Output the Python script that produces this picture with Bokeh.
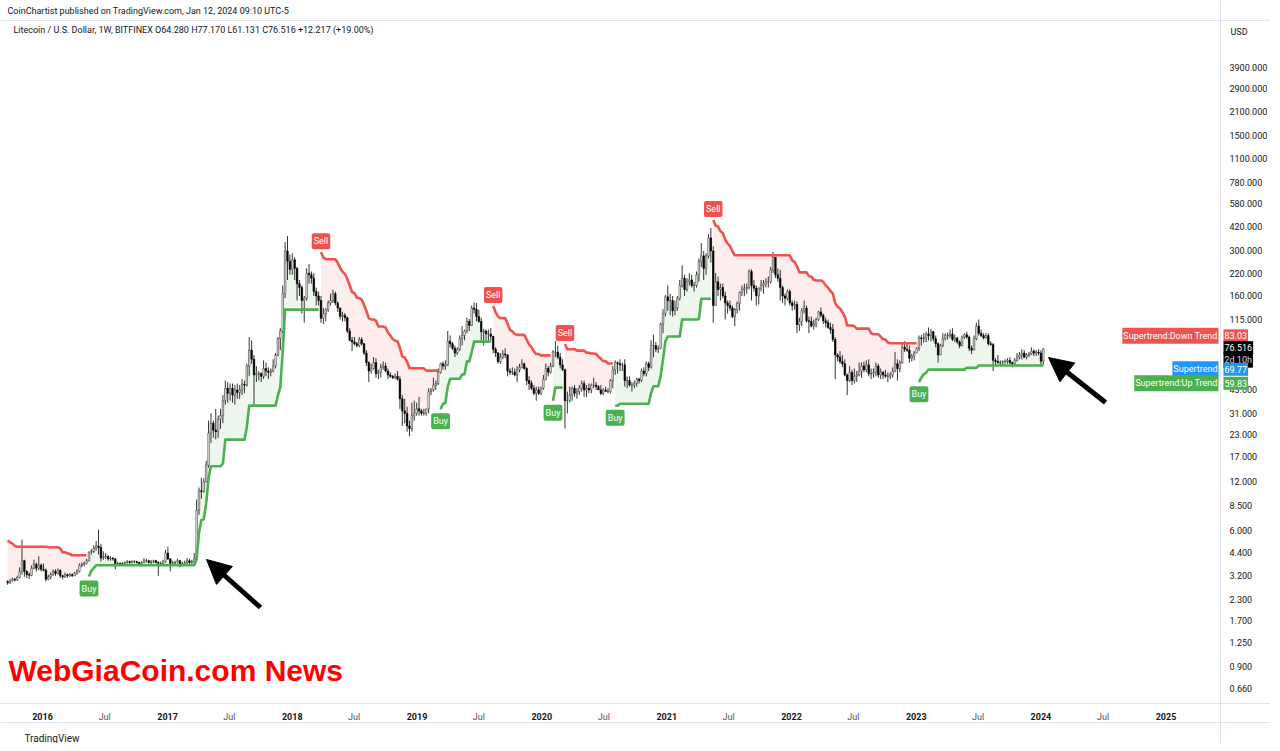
import numpy as np
import pandas as pd
from bokeh.plotting import figure
from bokeh.models import (Range1d, Label, Arrow, NormalHead, Span)
from bokeh.embed import file_html
from bokeh.resources import INLINE

# ---------------- data (weekly LTC/USD, Bitfinex) ----------------
FIRST_WEEK = "2015-09-21"
first_open = 2.95

# weeks 2015-09-21 .. 2015-12-28
close_2015 = [2.90, 2.98, 3.05, 3.02, 3.12, 3.40, 3.95, 3.40, 3.25, 3.22, 3.55, 3.75, 3.55, 3.70, 3.50]
high_2015 = [3.00, 3.05, 3.12, 3.10, 3.20, 3.60, 5.30, 4.00, 3.45, 3.35, 3.70, 4.00, 3.85, 4.20, 3.80]
low_2015 = [2.82, 2.86, 2.95, 2.95, 2.98, 3.08, 3.25, 3.15, 3.10, 3.05, 3.18, 3.50, 3.40, 3.45, 3.40]

# weeks 2016-01-04 .. 2016-12-26
close_2016 = [3.45, 3.05, 3.15, 3.25, 3.40, 3.30, 3.45, 3.20, 3.15, 3.25,
              3.20, 3.25, 3.20, 3.30, 3.40, 3.70, 3.75, 3.80, 3.95, 4.45,
              4.50, 4.70, 4.85, 4.75, 4.10, 4.15, 4.20, 4.05, 4.10, 4.05,
              3.80, 3.80, 3.78, 3.80, 3.85, 3.90, 3.85, 3.90, 3.90, 3.85,
              3.80, 3.85, 3.95, 3.95, 3.85, 3.90, 3.95, 3.85, 3.80, 3.80,
              3.90, 4.40]
high_2016 = [3.80, 3.55, 3.25, 3.35, 3.50, 3.50, 3.55, 3.50, 3.25, 3.35,
             3.30, 3.32, 3.30, 3.38, 3.50, 3.80, 3.85, 3.90, 4.05, 4.50,
             4.65, 4.90, 5.20, 6.10, 5.00, 4.50, 4.40, 4.25, 4.20, 4.15,
             4.10, 3.90, 3.85, 3.88, 3.92, 3.98, 3.95, 3.98, 3.98, 3.95,
             3.90, 3.92, 4.10, 4.05, 4.00, 3.98, 4.00, 4.00, 3.92, 3.90,
             4.00, 4.60]
low_2016 = [3.40, 2.95, 3.00, 3.05, 3.20, 3.20, 3.25, 3.10, 3.05, 3.10,
            3.12, 3.15, 3.15, 3.18, 3.25, 3.35, 3.60, 3.65, 3.75, 3.90,
            4.30, 4.40, 4.55, 4.30, 3.90, 4.00, 4.05, 3.95, 3.95, 3.95,
            3.50, 3.70, 3.70, 3.72, 3.75, 3.80, 3.78, 3.80, 3.82, 3.80,
            3.75, 3.75, 3.82, 3.85, 3.80, 3.75, 3.82, 3.80, 3.20, 3.72,
            3.75, 3.85]

# weeks 2017-01-02 .. 2017-12-25
close_2017 = [4.05, 3.80, 3.85, 3.85, 3.95, 3.80, 3.80, 3.85, 3.95, 3.85,
              3.90, 4.05, 8.00, 10.5, 10.4, 11.9, 15.0, 23.5, 27.0, 24.5,
              24.0, 28.5, 30.0, 37.0, 44.0, 41.0, 44.0, 40.0, 43.0, 41.5,
              43.0, 46.5, 46.0, 60.0, 75.0, 66.0, 53.0, 54.0, 54.0, 52.0,
              58.0, 56.0, 55.0, 56.0, 60.0, 70.0, 88.0, 98.0, 165.0, 300.0,
              260.0, 232.0]
high_2017 = [4.80, 4.10, 3.95, 3.95, 4.05, 4.00, 3.90, 3.95, 4.10, 4.05,
             4.00, 4.40, 9.30, 11.0, 12.6, 12.5, 16.0, 28.0, 31.0, 28.0,
             33.0, 30.0, 33.0, 40.0, 49.0, 48.0, 47.0, 47.0, 46.0, 47.0,
             46.0, 50.0, 49.0, 62.0, 90.0, 86.0, 70.0, 60.0, 56.0, 55.0,
             65.0, 63.0, 59.0, 58.0, 66.0, 72.0, 90.0, 102.0, 185.0, 340.0,
             370.0, 285.0]
low_2017 = [4.00, 3.40, 3.70, 3.75, 3.80, 3.60, 3.65, 3.70, 3.75, 3.70,
            3.70, 3.75, 3.95, 7.50, 9.40, 10.2, 11.8, 14.5, 20.5, 22.0,
            21.5, 22.0, 25.0, 27.0, 35.0, 36.0, 37.0, 36.0, 35.0, 38.0,
            38.0, 40.0, 41.0, 45.0, 52.0, 62.0, 35.0, 48.0, 49.0, 48.0,
            50.0, 52.0, 50.0, 52.0, 55.0, 58.0, 69.0, 75.0, 95.0, 155.0,
            200.0, 215.0]

# weeks 2018-01-01 .. 2018-12-24
close_2018 = [265, 235, 190, 180, 150, 155, 220, 215, 205, 170,
              160, 150, 117, 125, 132, 145, 150, 165, 145, 135,
              120, 122, 118, 98, 86, 84, 82, 80, 87, 82,
              72, 63, 56, 58, 63, 54, 55, 59, 60, 56,
              53, 52, 51, 52, 50, 38, 32, 31, 26, 25,
              30, 31]
high_2018 = [290, 275, 240, 200, 185, 160, 235, 250, 225, 220,
             180, 170, 160, 135, 135, 150, 165, 175, 170, 148,
             136, 128, 126, 120, 102, 90, 90, 84, 90, 90,
             83, 75, 64, 62, 68, 67, 57, 62, 64, 63,
             58, 55, 53, 54, 56, 52, 40, 38, 34, 28,
             36, 37]
low_2018 = [215, 200, 150, 160, 125, 110, 150, 190, 190, 160,
            140, 140, 110, 108, 112, 128, 140, 145, 140, 128,
            115, 112, 112, 95, 85, 74, 80, 78, 78, 80,
            70, 60, 48, 54, 57, 51, 50, 51, 57, 55,
            50, 51, 50, 50, 49, 33, 26, 27, 24, 22.5,
            24, 28]

# weeks 2018-12-31 .. 2019-12-23
close_2019 = [33, 32, 31, 31, 33, 42, 43, 46, 47, 55,
              62, 60, 61, 85, 82, 77, 72, 76, 88, 92,
              98, 112, 106, 135, 133, 120, 112, 97, 98, 94,
              94, 91, 76, 72, 64, 68, 71, 70, 56, 55,
              55, 53, 57, 59, 62, 58, 49, 47, 44, 41,
              43, 41]
high_2019 = [36, 39, 33, 33, 33, 44, 44, 51, 49, 58,
             63, 64, 65, 98, 92, 84, 80, 78, 92, 105,
             100, 118, 116, 140, 146, 145, 132, 118, 101, 100,
             100, 102, 91, 78, 73, 72, 75, 77, 71, 58,
             59, 58, 60, 62, 66, 63, 59, 52, 49, 46,
             45, 45]
low_2019 = [30, 30, 30, 30, 30, 31, 40, 42, 43, 46,
            54, 57, 57, 60, 78, 75, 68, 70, 74, 80,
            86, 95, 98, 105, 125, 112, 110, 85, 80, 86,
            84, 85, 72, 68, 62, 62, 66, 67, 52, 53,
            53, 52, 48, 55, 58, 57, 46, 43, 43, 40,
            37, 40]

# weeks 2019-12-30 .. 2020-12-21
close_2020 = [44, 50, 58, 55, 60, 73, 73, 68, 61, 57,
              37, 37, 40, 44, 41, 42, 44, 47, 43, 44,
              43, 46, 46, 45, 43, 41, 43, 42, 42, 49,
              57, 63, 62, 61, 61, 49, 49, 46, 46, 47,
              50, 49, 56, 54, 62, 59, 80, 80, 76, 77,
              108, 125]
high_2020 = [45, 53, 62, 60, 63, 75, 85, 80, 72, 66,
             58, 42, 45, 45, 46, 44, 46, 49, 49, 46,
             47, 47, 51, 48, 46, 46, 44, 45, 44, 50,
             60, 65, 64, 66, 63, 66, 52, 52, 48, 49,
             51, 51, 58, 59, 64, 64, 86, 93, 84, 80,
             110, 133]
low_2020 = [40, 43, 49, 52, 54, 59, 68, 66, 58, 56,
            25, 31, 36, 37, 39, 38, 40, 42, 39, 39,
            41, 41, 44, 43, 43, 40, 40, 42, 41, 41,
            44, 53, 54, 56, 56, 45, 44, 45, 42, 44,
            45, 47, 48, 52, 52, 56, 58, 68, 73, 72,
            76, 95]

# weeks 2020-12-28 .. 2021-12-27
close_2021 = [158, 150, 150, 130, 135, 155, 185, 205, 175, 195,
              200, 185, 185, 215, 260, 280, 235, 280, 360, 300,
              140, 195, 175, 180, 160, 145, 140, 135, 120, 132,
              144, 168, 175, 178, 180, 225, 185, 178, 160, 178,
              185, 190, 195, 195, 230, 275, 215, 205, 180, 160,
              155, 170, 145]
high_2021 = [162, 185, 165, 160, 150, 160, 200, 245, 215, 205,
             220, 215, 195, 225, 270, 335, 300, 290, 380, 413,
             320, 220, 210, 190, 190, 170, 150, 150, 140, 135,
             148, 170, 185, 190, 190, 232, 232, 200, 185, 180,
             200, 200, 205, 210, 240, 296, 275, 235, 230, 185,
             165, 175, 175]
low_2021 = [120, 130, 122, 120, 122, 130, 150, 180, 160, 170,
            185, 180, 170, 180, 195, 240, 200, 215, 270, 255,
            110, 140, 160, 150, 155, 115, 125, 130, 117, 105,
            125, 130, 160, 160, 165, 175, 150, 170, 140, 142,
            170, 165, 180, 180, 190, 220, 205, 195, 150, 145,
            140, 150, 140]

# weeks 2022-01-03 .. 2022-12-26
close_2022 = [140, 142, 107, 112, 130, 135, 113, 112, 105, 108,
              115, 128, 122, 113, 110, 103, 100, 87, 70, 68,
              64, 62, 53, 49, 55, 49, 52, 53, 56, 60,
              57, 61, 54, 54, 55, 60, 53, 55, 53, 52,
              52, 53, 56, 62, 58, 63, 78, 76, 75, 67,
              69, 72]
high_2022 = [150, 150, 148, 118, 135, 150, 140, 120, 120, 115,
             118, 130, 136, 125, 118, 115, 110, 108, 90, 72,
             74, 70, 66, 54, 60, 57, 58, 56, 63, 63,
             64, 65, 66, 58, 58, 63, 62, 58, 56, 57,
             55, 55, 59, 73, 66, 65, 82, 85, 83, 80,
             71, 74]
low_2022 = [130, 132, 95, 98, 105, 125, 110, 95, 103, 100,
            103, 113, 118, 108, 103, 101, 94, 84, 50, 64,
            62, 59, 52, 40, 48, 46, 47, 48, 52, 51,
            55, 55, 52, 50, 51, 52, 51, 50, 50, 51,
            48, 50, 51, 55, 49, 55, 62, 73, 73, 63,
            64, 65]

# weeks 2023-01-02 .. 2023-12-25
close_2023 = [77, 89, 88, 89, 94, 92, 97, 88, 82, 70,
              80, 88, 92, 92, 94, 87, 89, 84, 80, 90,
              93, 90, 77, 75, 88, 105, 95, 92, 89, 92,
              82, 81, 65, 64, 63, 63, 64, 64, 65, 63,
              62, 65, 68, 70, 72, 68, 70, 71, 74, 72,
              73, 72]
high_2023 = [78, 92, 93, 95, 97, 103, 101, 98, 92, 84,
             82, 95, 95, 96, 100, 102, 93, 90, 86, 92,
             95, 97, 92, 80, 92, 110, 115, 100, 95, 95,
             95, 85, 83, 67, 70, 65, 65, 66, 67, 68,
             64, 67, 72, 73, 76, 75, 72, 73, 78, 76,
             75, 76]
low_2023 = [72, 74, 80, 83, 84, 86, 85, 85, 78, 63,
            70, 78, 86, 87, 89, 85, 84, 82, 77, 79,
            88, 88, 74, 71, 75, 86, 92, 90, 87, 88,
            80, 80, 56, 61, 62, 61, 60, 62, 62, 61,
            59, 61, 64, 66, 66, 67, 66, 68, 70, 69,
            69, 70]

# weeks 2024-01-01 .. 2024-01-08
close_2024 = [64.28, 76.516]
high_2024 = [75, 77.17]
low_2024 = [60, 61.13]

price_ticks = [0.66, 0.9, 1.25, 1.7, 2.3, 3.2, 4.4, 6.0, 8.5, 12, 17, 23, 31, 43,
               115, 160, 220, 300, 420, 580, 780, 1100, 1500, 2100, 2900, 3900]
year_labels = list(range(2016, 2026))
jul_labels = list(range(2016, 2025))

header_text = "CoinChartist published on TradingView.com, Jan 12, 2024 09:10 UTC-5"
symbol_text = "Litecoin / U.S. Dollar, 1W, BITFINEX  O64.280  H77.170  L61.131  C76.516  +12.217 (+19.00%)"
last_values = {"down": 83.03, "close": 76.516, "mid": 69.77, "up": 59.83}
countdown = "2d 10h"

ATR_PERIOD = 10
FACTOR = 3.0
atr_seed = 0.84  # ATR carried in from history before the first visible week

# ---------------- assemble ----------------
closes = np.array(close_2015 + close_2016 + close_2017 + close_2018 + close_2019 +
                  close_2020 + close_2021 + close_2022 + close_2023 + close_2024, float)
highs = np.array(high_2015 + high_2016 + high_2017 + high_2018 + high_2019 +
                 high_2020 + high_2021 + high_2022 + high_2023 + high_2024, float)
lows = np.array(low_2015 + low_2016 + low_2017 + low_2018 + low_2019 +
                low_2020 + low_2021 + low_2022 + low_2023 + low_2024, float)
n = len(closes)
opens = np.concatenate([[first_open], closes[:-1]])
dates = pd.date_range(FIRST_WEEK, periods=n, freq="7D")
xs = np.array([d.value / 1e6 for d in dates])
DAY = 86400000.0


def ms(s):
    return pd.Timestamp(s).value / 1e6


# Supertrend (ATR 10, factor 3)
hl2 = (highs + lows) / 2.0
tr = np.empty(n)
tr[0] = highs[0] - lows[0]
for i in range(1, n):
    tr[i] = max(highs[i] - lows[i], abs(highs[i] - closes[i - 1]), abs(lows[i] - closes[i - 1]))
atr = np.empty(n)
a = atr_seed
for i in range(n):
    a = (a * (ATR_PERIOD - 1) + tr[i]) / ATR_PERIOD
    atr[i] = a
ub = hl2 + FACTOR * atr
lb = hl2 - FACTOR * atr
fu = np.empty(n)
fl = np.empty(n)
down = np.zeros(n, bool)
st = np.empty(n)
for i in range(n):
    if i == 0:
        fu[i], fl[i], down[i] = ub[i], lb[i], True
    else:
        fl[i] = lb[i] if (lb[i] > fl[i - 1] or closes[i - 1] < fl[i - 1]) else fl[i - 1]
        fu[i] = ub[i] if (ub[i] < fu[i - 1] or closes[i - 1] > fu[i - 1]) else fu[i - 1]
        if down[i - 1]:
            down[i] = not (closes[i] > fu[i])
        else:
            down[i] = closes[i] < fl[i]
    st[i] = fu[i] if down[i] else fl[i]
ohlc4 = (opens + highs + lows + closes) / 4.0

# ---------------- layout / scales ----------------
W, H = 1270, 743
GREEN = "#4caf50"
RED = "#ef5350"
BLUE = "#2196f3"
TXT = "#131722"
GRID = "#e0e3eb"
FONT = "Roboto"

T0 = ms("2016-01-01")
PX_PER_DAY = 0.3417          # time-axis scale (pixels per day)
T0_PX = 42                   # pixel column of 2016-01-01
PX_PER_DECADE = 164.7        # log price-axis scale
REF_PX, REF_LOG = 67, np.log10(3900)
CHART_RIGHT_PX, CHART_TOP_PX, CHART_BOTTOM_PX = 1220, 20, 703


def t_at(px):
    return T0 + (px - T0_PX) / PX_PER_DAY * DAY


def price_at(py):
    return 10 ** (REF_LOG - (py - REF_PX) / PX_PER_DECADE)


X_END = t_at(CHART_RIGHT_PX)
Y_MAX = price_at(CHART_TOP_PX)
Y_MIN = price_at(CHART_BOTTOM_PX)

p = figure(width=W, height=H, x_axis_type="datetime", y_axis_type="log",
           x_axis_location=None, y_axis_location=None,
           output_backend="svg", toolbar_location=None,
           x_range=Range1d(t_at(0), t_at(W)), y_range=Range1d(price_at(H), price_at(0)),
           min_border=0, min_border_left=0, min_border_right=0, min_border_top=0, min_border_bottom=0,
           background_fill_color="white", border_fill_color="white", outline_line_color=None)
p.grid.grid_line_color = None

# pane borders
for loc in (Y_MAX, Y_MIN, price_at(722)):
    p.add_layout(Span(location=loc, dimension="width", line_color=GRID, line_width=1))
p.add_layout(Span(location=X_END, dimension="height", line_color=GRID, line_width=1))

# trend runs
runs = []
s = 0
for i in range(1, n + 1):
    if i == n or down[i] != down[s]:
        runs.append((s, i, down[s]))
        s = i

for a0, a1, dn in runs:
    col = RED if dn else GREEN
    p.varea(x=xs[a0:a1], y1=st[a0:a1], y2=ohlc4[a0:a1], fill_color=col, fill_alpha=0.1)

# candles
up = closes >= opens
p.segment(x0=xs, y0=highs, x1=xs, y1=lows, line_color="#000000", line_width=0.8)
p.vbar(x=xs[up], width=4.5 * DAY, top=closes[up], bottom=opens[up],
       fill_color="#ffffff", line_color="#3a3a3a", line_width=0.6)
p.vbar(x=xs[~up], width=4.5 * DAY, top=opens[~up], bottom=closes[~up],
       fill_color="#000000", line_color="#000000", line_width=0.6)

for a0, a1, dn in runs:
    col = RED if dn else GREEN
    p.line(xs[a0:a1], st[a0:a1], line_color=col, line_width=2.6, line_join="round")

# Buy / Sell signals
for i in range(1, n):
    if down[i - 1] and not down[i]:
        p.add_layout(Label(x=xs[i], y=st[i], y_offset=-12, text="Buy", text_align="center",
                           text_baseline="middle", text_color="white", text_font_size="9px",
                           text_font=FONT, background_fill_color=GREEN, padding=(2, 3), border_radius=2))
    elif down[i] and not down[i - 1]:
        p.add_layout(Label(x=xs[i], y=st[i], y_offset=11, text="Sell", text_align="center",
                           text_baseline="middle", text_color="white", text_font_size="9px",
                           text_font=FONT, background_fill_color=RED, padding=(2, 3), border_radius=2))

# price scale tick labels
for t in price_ticks:
    p.add_layout(Label(x=X_END, y=t, x_offset=9, text=f"{t:.3f}", text_baseline="middle",
                       text_font_size="9px", text_font=FONT, text_color=TXT))
p.add_layout(Label(x=X_END, y=Y_MAX, x_offset=10, y_offset=-11, text="USD",
                   text_baseline="middle", text_font_size="9px", text_font=FONT, text_color=TXT))

# time axis labels
for yr in year_labels:
    p.add_layout(Label(x=ms(f"{yr}-01-01"), y=Y_MIN, y_offset=-13, text=str(yr), text_align="center",
                       text_baseline="middle", text_font_size="9px", text_font=FONT,
                       text_font_style="bold", text_color=TXT))
for yr in jul_labels:
    p.add_layout(Label(x=ms(f"{yr}-07-01"), y=Y_MIN, y_offset=-13, text="Jul", text_align="center",
                       text_baseline="middle", text_font_size="9px", text_font=FONT, text_color="#50535e"))

# header texts
p.add_layout(Label(x=t_at(0), y=Y_MAX, x_offset=7, y_offset=10, text=header_text,
                   text_baseline="middle", text_font_size="9px", text_font=FONT, text_color=TXT))
p.add_layout(Label(x=t_at(0), y=Y_MAX, x_offset=13, y_offset=-9, text=symbol_text,
                   text_baseline="middle", text_font_size="9px", text_font=FONT, text_color=TXT))


# price-scale value labels
def scale_label(name, val, txt, col, yoff, fg="white"):
    if name:
        p.add_layout(Label(x=X_END, y=val, x_offset=-2, y_offset=yoff, text=name, text_align="right",
                           text_baseline="middle", text_font_size="9px", text_font=FONT,
                           text_color="white", background_fill_color=col, padding=(1, 3)))
    p.add_layout(Label(x=X_END, y=val, x_offset=3, y_offset=yoff, text=txt, text_align="left",
                       text_baseline="middle", text_font_size="9px", text_font=FONT,
                       text_color=fg, background_fill_color=col, padding=(1, 3)))


scale_label("Supertrend:Down Trend", last_values["down"], f"{last_values['down']:.2f}", RED, 7)
scale_label(None, last_values["close"], countdown, "#000000", -11, fg="#d1d4dc")
scale_label(None, last_values["close"], f"{last_values['close']:.3f}", "#000000", 1)
scale_label("Supertrend", last_values["mid"], f"{last_values['mid']:.2f}", BLUE, -14)
scale_label("Supertrend:Up Trend", last_values["up"], f"{last_values['up']:.2f}", GREEN, -17)

# annotation arrows (tail -> tip, in picture pixels)
for (tx, ty, hx, hy) in [(260, 607, 206, 559), (1105, 402, 1048, 357)]:
    p.add_layout(Arrow(end=NormalHead(size=24, fill_color="black", line_color="black"),
                       x_start=t_at(tx), y_start=price_at(ty), x_end=t_at(hx), y_end=price_at(hy),
                       line_color="black", line_width=5))

# watermark
p.add_layout(Label(x=t_at(0), y=price_at(670), x_offset=8, text="WebGiaCoin.com News",
                   text_baseline="middle", text_font_size="30px",
                   text_font="Liberation Sans", text_font_style="bold", text_color="#ff0000"))

# footer
p.add_layout(Label(x=t_at(0), y=Y_MIN, x_offset=24, y_offset=-35, text="TradingView",
                   text_baseline="middle", text_font_size="10px", text_font=FONT, text_color=TXT))

open("out.html", "w").write(file_html(p, INLINE, "Litecoin Supertrend"))
